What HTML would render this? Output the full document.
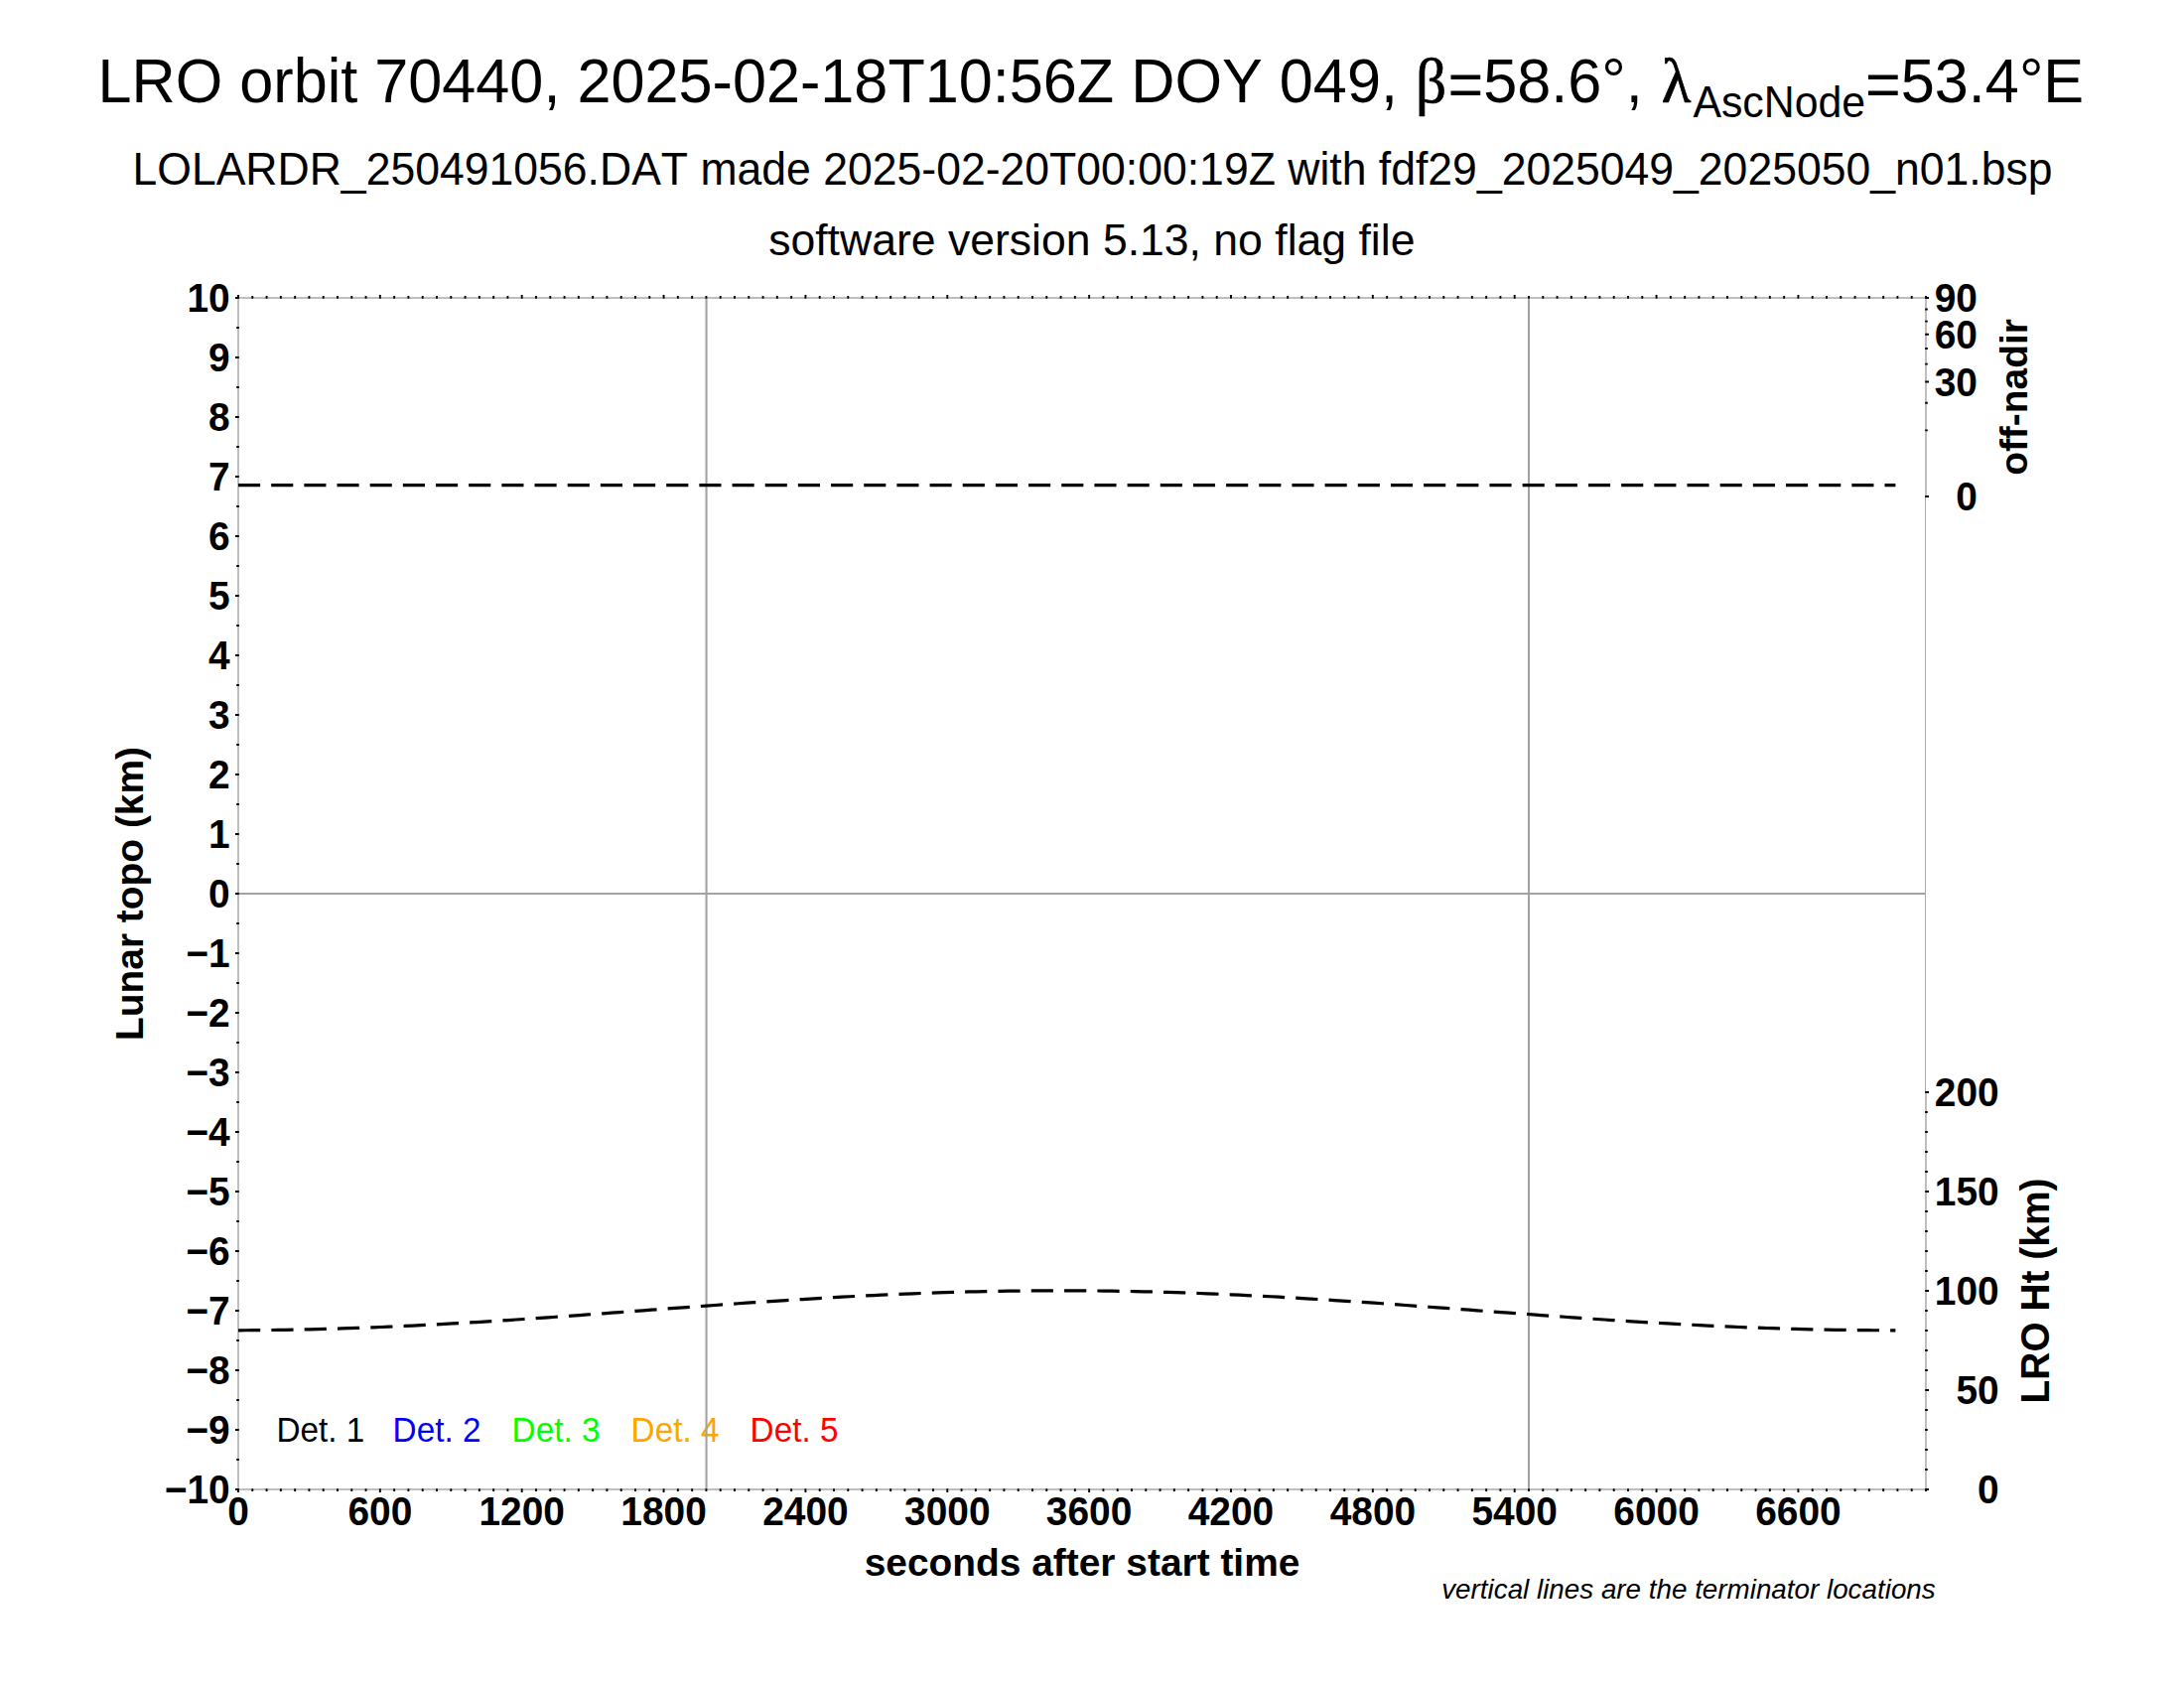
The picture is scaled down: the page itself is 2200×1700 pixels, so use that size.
<!DOCTYPE html>
<html lang="en"><head><meta charset="utf-8"><title>LRO orbit 70440</title>
<style>html,body{margin:0;padding:0;background:#fff}body{width:2200px;height:1700px;overflow:hidden}svg{display:block}text{font-kerning:none;font-family:"Liberation Sans",Arial,Helvetica,sans-serif;fill:#000}.b{font-weight:bold;font-size:38.9px}.t1{font-size:61.2px}.t2{font-size:44.55px}.lg{font-size:33.3px}.nt{font-size:27.8px;font-style:italic}.sym{font-family:"Liberation Serif","DejaVu Serif",serif;stroke:#000;stroke-width:.7px}</style></head><body>
<svg width="2200" height="1700" viewBox="0 0 2200 1700">
<rect width="2200" height="1700" fill="#fff"/>
<text class="t1" transform="translate(1098.8 103.3) scale(1 1.04)" text-anchor="middle">LRO orbit 70440, 2025-02-18T10:56Z DOY 049, <tspan class="sym" dx="1.2">β</tspan><tspan dx="1.2" dy="3.4">=</tspan><tspan dy="-3.4">58.6°, </tspan><tspan class="sym" dx="2">λ</tspan><tspan font-size="42.8" dy="14.5" dx="2">AscNode</tspan><tspan dy="-11.1">=</tspan><tspan dy="-3.4">53.4°E</tspan></text>
<text class="t2" transform="translate(1100.5 186.2) scale(1 1.035)" text-anchor="middle">LOLARDR_250491056.DAT made 2025-02-20T00:00:19Z with fdf29_2025049_2025050_n01.bsp</text>
<text class="t2" transform="translate(1099.8 256.8)" text-anchor="middle">software version 5.13, no flag file</text>
<text class="lg" transform="translate(278.5 1452.0) scale(1 1.045)" style="fill:#000">Det. 1</text>
<text class="lg" transform="translate(395.6 1452.0) scale(1 1.045)" style="fill:#00f">Det. 2</text>
<text class="lg" transform="translate(515.6 1452.0) scale(1 1.045)" style="fill:#0f0">Det. 3</text>
<text class="lg" transform="translate(635.6 1452.0) scale(1 1.045)" style="fill:#ffa500">Det. 4</text>
<text class="lg" transform="translate(755.6 1452.0) scale(1 1.045)" style="fill:#f00">Det. 5</text>
<path d="M240 900H1940" stroke="#a2a2a2" stroke-width="2" fill="none"/>
<path d="M711.55 300V1500" stroke="#a2a2a2" stroke-width="2.1" fill="none"/>
<path d="M1540.0 300V1500" stroke="#a2a2a2" stroke-width="2.1" fill="none"/>
<path d="M1940 500V299M1941 300H239M240 300V1500M239 1500H1941M1940 1501V1100" fill="none" stroke="#bebebe" stroke-width="2"/>
<path d="M1939.5 500V1100" fill="none" stroke="#aaa" stroke-width="1"/>
<path d="M240.00 300.8v-3.7M240.00 1499.2v3.7M254.29 300.8v-2.8M254.29 1499.2v2.8M268.57 300.8v-2.8M268.57 1499.2v2.8M282.86 300.8v-2.8M282.86 1499.2v2.8M297.14 300.8v-2.8M297.14 1499.2v2.8M311.43 300.8v-2.8M311.43 1499.2v2.8M325.71 300.8v-2.8M325.71 1499.2v2.8M340.00 300.8v-2.8M340.00 1499.2v2.8M354.29 300.8v-2.8M354.29 1499.2v2.8M368.57 300.8v-2.8M368.57 1499.2v2.8M382.86 300.8v-3.7M382.86 1499.2v3.7M397.14 300.8v-2.8M397.14 1499.2v2.8M411.43 300.8v-2.8M411.43 1499.2v2.8M425.71 300.8v-2.8M425.71 1499.2v2.8M440.00 300.8v-2.8M440.00 1499.2v2.8M454.29 300.8v-2.8M454.29 1499.2v2.8M468.57 300.8v-2.8M468.57 1499.2v2.8M482.86 300.8v-2.8M482.86 1499.2v2.8M497.14 300.8v-2.8M497.14 1499.2v2.8M511.43 300.8v-2.8M511.43 1499.2v2.8M525.71 300.8v-3.7M525.71 1499.2v3.7M540.00 300.8v-2.8M540.00 1499.2v2.8M554.29 300.8v-2.8M554.29 1499.2v2.8M568.57 300.8v-2.8M568.57 1499.2v2.8M582.86 300.8v-2.8M582.86 1499.2v2.8M597.14 300.8v-2.8M597.14 1499.2v2.8M611.43 300.8v-2.8M611.43 1499.2v2.8M625.71 300.8v-2.8M625.71 1499.2v2.8M640.00 300.8v-2.8M640.00 1499.2v2.8M654.29 300.8v-2.8M654.29 1499.2v2.8M668.57 300.8v-3.7M668.57 1499.2v3.7M682.86 300.8v-2.8M682.86 1499.2v2.8M697.14 300.8v-2.8M697.14 1499.2v2.8M711.43 300.8v-2.8M711.43 1499.2v2.8M725.71 300.8v-2.8M725.71 1499.2v2.8M740.00 300.8v-2.8M740.00 1499.2v2.8M754.29 300.8v-2.8M754.29 1499.2v2.8M768.57 300.8v-2.8M768.57 1499.2v2.8M782.86 300.8v-2.8M782.86 1499.2v2.8M797.14 300.8v-2.8M797.14 1499.2v2.8M811.43 300.8v-3.7M811.43 1499.2v3.7M825.71 300.8v-2.8M825.71 1499.2v2.8M840.00 300.8v-2.8M840.00 1499.2v2.8M854.29 300.8v-2.8M854.29 1499.2v2.8M868.57 300.8v-2.8M868.57 1499.2v2.8M882.86 300.8v-2.8M882.86 1499.2v2.8M897.14 300.8v-2.8M897.14 1499.2v2.8M911.43 300.8v-2.8M911.43 1499.2v2.8M925.71 300.8v-2.8M925.71 1499.2v2.8M940.00 300.8v-2.8M940.00 1499.2v2.8M954.29 300.8v-3.7M954.29 1499.2v3.7M968.57 300.8v-2.8M968.57 1499.2v2.8M982.86 300.8v-2.8M982.86 1499.2v2.8M997.14 300.8v-2.8M997.14 1499.2v2.8M1011.43 300.8v-2.8M1011.43 1499.2v2.8M1025.71 300.8v-2.8M1025.71 1499.2v2.8M1040.00 300.8v-2.8M1040.00 1499.2v2.8M1054.29 300.8v-2.8M1054.29 1499.2v2.8M1068.57 300.8v-2.8M1068.57 1499.2v2.8M1082.86 300.8v-2.8M1082.86 1499.2v2.8M1097.14 300.8v-3.7M1097.14 1499.2v3.7M1111.43 300.8v-2.8M1111.43 1499.2v2.8M1125.71 300.8v-2.8M1125.71 1499.2v2.8M1140.00 300.8v-2.8M1140.00 1499.2v2.8M1154.29 300.8v-2.8M1154.29 1499.2v2.8M1168.57 300.8v-2.8M1168.57 1499.2v2.8M1182.86 300.8v-2.8M1182.86 1499.2v2.8M1197.14 300.8v-2.8M1197.14 1499.2v2.8M1211.43 300.8v-2.8M1211.43 1499.2v2.8M1225.71 300.8v-2.8M1225.71 1499.2v2.8M1240.00 300.8v-3.7M1240.00 1499.2v3.7M1254.29 300.8v-2.8M1254.29 1499.2v2.8M1268.57 300.8v-2.8M1268.57 1499.2v2.8M1282.86 300.8v-2.8M1282.86 1499.2v2.8M1297.14 300.8v-2.8M1297.14 1499.2v2.8M1311.43 300.8v-2.8M1311.43 1499.2v2.8M1325.71 300.8v-2.8M1325.71 1499.2v2.8M1340.00 300.8v-2.8M1340.00 1499.2v2.8M1354.29 300.8v-2.8M1354.29 1499.2v2.8M1368.57 300.8v-2.8M1368.57 1499.2v2.8M1382.86 300.8v-3.7M1382.86 1499.2v3.7M1397.14 300.8v-2.8M1397.14 1499.2v2.8M1411.43 300.8v-2.8M1411.43 1499.2v2.8M1425.71 300.8v-2.8M1425.71 1499.2v2.8M1440.00 300.8v-2.8M1440.00 1499.2v2.8M1454.29 300.8v-2.8M1454.29 1499.2v2.8M1468.57 300.8v-2.8M1468.57 1499.2v2.8M1482.86 300.8v-2.8M1482.86 1499.2v2.8M1497.14 300.8v-2.8M1497.14 1499.2v2.8M1511.43 300.8v-2.8M1511.43 1499.2v2.8M1525.71 300.8v-3.7M1525.71 1499.2v3.7M1540.00 300.8v-2.8M1540.00 1499.2v2.8M1554.29 300.8v-2.8M1554.29 1499.2v2.8M1568.57 300.8v-2.8M1568.57 1499.2v2.8M1582.86 300.8v-2.8M1582.86 1499.2v2.8M1597.14 300.8v-2.8M1597.14 1499.2v2.8M1611.43 300.8v-2.8M1611.43 1499.2v2.8M1625.71 300.8v-2.8M1625.71 1499.2v2.8M1640.00 300.8v-2.8M1640.00 1499.2v2.8M1654.29 300.8v-2.8M1654.29 1499.2v2.8M1668.57 300.8v-3.7M1668.57 1499.2v3.7M1682.86 300.8v-2.8M1682.86 1499.2v2.8M1697.14 300.8v-2.8M1697.14 1499.2v2.8M1711.43 300.8v-2.8M1711.43 1499.2v2.8M1725.71 300.8v-2.8M1725.71 1499.2v2.8M1740.00 300.8v-2.8M1740.00 1499.2v2.8M1754.29 300.8v-2.8M1754.29 1499.2v2.8M1768.57 300.8v-2.8M1768.57 1499.2v2.8M1782.86 300.8v-2.8M1782.86 1499.2v2.8M1797.14 300.8v-2.8M1797.14 1499.2v2.8M1811.43 300.8v-3.7M1811.43 1499.2v3.7M1825.71 300.8v-2.8M1825.71 1499.2v2.8M1840.00 300.8v-2.8M1840.00 1499.2v2.8M1854.29 300.8v-2.8M1854.29 1499.2v2.8M1868.57 300.8v-2.8M1868.57 1499.2v2.8M1882.86 300.8v-2.8M1882.86 1499.2v2.8M1897.14 300.8v-2.8M1897.14 1499.2v2.8M1911.43 300.8v-2.8M1911.43 1499.2v2.8M1925.71 300.8v-2.8M1925.71 1499.2v2.8M1940.00 300.8v-2.8M1940.00 1499.2v2.8M240.8 1500.00h-3.8M240.8 1470.00h-2.6M240.8 1440.00h-3.8M240.8 1410.00h-2.6M240.8 1380.00h-3.8M240.8 1350.00h-2.6M240.8 1320.00h-3.8M240.8 1290.00h-2.6M240.8 1260.00h-3.8M240.8 1230.00h-2.6M240.8 1200.00h-3.8M240.8 1170.00h-2.6M240.8 1140.00h-3.8M240.8 1110.00h-2.6M240.8 1080.00h-3.8M240.8 1050.00h-2.6M240.8 1020.00h-3.8M240.8 990.00h-2.6M240.8 960.00h-3.8M240.8 930.00h-2.6M240.8 900.00h-3.8M240.8 870.00h-2.6M240.8 840.00h-3.8M240.8 810.00h-2.6M240.8 780.00h-3.8M240.8 750.00h-2.6M240.8 720.00h-3.8M240.8 690.00h-2.6M240.8 660.00h-3.8M240.8 630.00h-2.6M240.8 600.00h-3.8M240.8 570.00h-2.6M240.8 540.00h-3.8M240.8 510.00h-2.6M240.8 480.00h-3.8M240.8 450.00h-2.6M240.8 420.00h-3.8M240.8 390.00h-2.6M240.8 360.00h-3.8M240.8 330.00h-2.6M240.8 300.00h-3.8M1939.2 500.00h3.8M1939.2 433.33h2.6M1939.2 405.72h2.6M1939.2 384.53h3.8M1939.2 366.67h2.6M1939.2 350.93h2.6M1939.2 336.70h3.8M1939.2 323.62h2.6M1939.2 311.44h2.6M1939.2 300.00h3.8M1939.2 1500.00h3.8M1939.2 1480.00h2.6M1939.2 1460.00h2.6M1939.2 1440.00h2.6M1939.2 1420.00h2.6M1939.2 1400.00h3.8M1939.2 1380.00h2.6M1939.2 1360.00h2.6M1939.2 1340.00h2.6M1939.2 1320.00h2.6M1939.2 1300.00h3.8M1939.2 1280.00h2.6M1939.2 1260.00h2.6M1939.2 1240.00h2.6M1939.2 1220.00h2.6M1939.2 1200.00h3.8M1939.2 1180.00h2.6M1939.2 1160.00h2.6M1939.2 1140.00h2.6M1939.2 1120.00h2.6M1939.2 1100.00h3.8" stroke="#000" stroke-width="1.9" fill="none"/>
<path d="M240.0 1339.78L248.0 1339.74L256.0 1339.69L264.0 1339.62L272.0 1339.53L280.0 1339.42L288.0 1339.30L296.0 1339.16L304.0 1339.00L312.0 1338.82L320.0 1338.63L328.0 1338.42L336.0 1338.19L344.0 1337.95L352.0 1337.69L360.0 1337.41L368.0 1337.12L376.0 1336.81L384.0 1336.49L392.0 1336.15L400.0 1335.80L408.0 1335.44L416.0 1335.06L424.0 1334.66L432.0 1334.26L440.0 1333.84L448.0 1333.40L456.0 1332.96L464.0 1332.50L472.0 1332.03L480.0 1331.56L488.0 1331.07L496.0 1330.57L504.0 1330.06L512.0 1329.54L520.0 1329.01L528.0 1328.48L536.0 1327.93L544.0 1327.38L552.0 1326.83L560.0 1326.26L568.0 1325.70L576.0 1325.12L584.0 1324.54L592.0 1323.96L600.0 1323.37L608.0 1322.78L616.0 1322.19L624.0 1321.59L632.0 1321.00L640.0 1320.40L648.0 1319.80L656.0 1319.20L664.0 1318.60L672.0 1318.01L680.0 1317.41L688.0 1316.82L696.0 1316.23L704.0 1315.64L712.0 1315.06L720.0 1314.48L728.0 1313.90L736.0 1313.34L744.0 1312.77L752.0 1312.22L760.0 1311.67L768.0 1311.12L776.0 1310.59L784.0 1310.06L792.0 1309.54L800.0 1309.03L808.0 1308.53L816.0 1308.04L824.0 1307.57L832.0 1307.10L840.0 1306.64L848.0 1306.20L856.0 1305.76L864.0 1305.34L872.0 1304.94L880.0 1304.54L888.0 1304.16L896.0 1303.80L904.0 1303.45L912.0 1303.11L920.0 1302.79L928.0 1302.48L936.0 1302.19L944.0 1301.91L952.0 1301.65L960.0 1301.41L968.0 1301.18L976.0 1300.97L984.0 1300.78L992.0 1300.60L1000.0 1300.44L1008.0 1300.30L1016.0 1300.18L1024.0 1300.07L1032.0 1299.98L1040.0 1299.91L1048.0 1299.86L1056.0 1299.82L1064.0 1299.80L1072.0 1299.80L1080.0 1299.82L1088.0 1299.86L1096.0 1299.91L1104.0 1299.98L1112.0 1300.07L1120.0 1300.18L1128.0 1300.30L1136.0 1300.44L1144.0 1300.60L1152.0 1300.78L1160.0 1300.97L1168.0 1301.18L1176.0 1301.41L1184.0 1301.65L1192.0 1301.91L1200.0 1302.19L1208.0 1302.48L1216.0 1302.79L1224.0 1303.11L1232.0 1303.45L1240.0 1303.80L1248.0 1304.16L1256.0 1304.54L1264.0 1304.94L1272.0 1305.34L1280.0 1305.76L1288.0 1306.20L1296.0 1306.64L1304.0 1307.10L1312.0 1307.57L1320.0 1308.04L1328.0 1308.53L1336.0 1309.03L1344.0 1309.54L1352.0 1310.06L1360.0 1310.59L1368.0 1311.12L1376.0 1311.67L1384.0 1312.22L1392.0 1312.77L1400.0 1313.34L1408.0 1313.90L1416.0 1314.48L1424.0 1315.06L1432.0 1315.64L1440.0 1316.23L1448.0 1316.82L1456.0 1317.41L1464.0 1318.01L1472.0 1318.60L1480.0 1319.20L1488.0 1319.80L1496.0 1320.40L1504.0 1321.00L1512.0 1321.59L1520.0 1322.19L1528.0 1322.78L1536.0 1323.37L1544.0 1323.96L1552.0 1324.54L1560.0 1325.12L1568.0 1325.70L1576.0 1326.26L1584.0 1326.83L1592.0 1327.38L1600.0 1327.93L1608.0 1328.48L1616.0 1329.01L1624.0 1329.54L1632.0 1330.06L1640.0 1330.57L1648.0 1331.07L1656.0 1331.56L1664.0 1332.03L1672.0 1332.50L1680.0 1332.96L1688.0 1333.40L1696.0 1333.84L1704.0 1334.26L1712.0 1334.66L1720.0 1335.06L1728.0 1335.44L1736.0 1335.80L1744.0 1336.15L1752.0 1336.49L1760.0 1336.81L1768.0 1337.12L1776.0 1337.41L1784.0 1337.69L1792.0 1337.95L1800.0 1338.19L1808.0 1338.42L1816.0 1338.63L1824.0 1338.82L1832.0 1339.00L1840.0 1339.16L1848.0 1339.30L1856.0 1339.42L1864.0 1339.53L1872.0 1339.62L1880.0 1339.69L1888.0 1339.74L1896.0 1339.78L1904.0 1339.80L1909.4 1339.80" stroke="#000" stroke-width="3.2" stroke-dasharray="22.22 11.11" fill="none"/>
<path d="M240 488.6H1909.4" stroke="#000" stroke-width="3.2" stroke-dasharray="22.11 11.06" fill="none"/>
<text class="b" transform="translate(231.7 1514.2) scale(1 1.03)" text-anchor="end">−10</text>
<text class="b" transform="translate(231.7 1454.2) scale(1 1.03)" text-anchor="end">−9</text>
<text class="b" transform="translate(231.7 1394.2) scale(1 1.03)" text-anchor="end">−8</text>
<text class="b" transform="translate(231.7 1334.2) scale(1 1.03)" text-anchor="end">−7</text>
<text class="b" transform="translate(231.7 1274.2) scale(1 1.03)" text-anchor="end">−6</text>
<text class="b" transform="translate(231.7 1214.2) scale(1 1.03)" text-anchor="end">−5</text>
<text class="b" transform="translate(231.7 1154.2) scale(1 1.03)" text-anchor="end">−4</text>
<text class="b" transform="translate(231.7 1094.2) scale(1 1.03)" text-anchor="end">−3</text>
<text class="b" transform="translate(231.7 1034.2) scale(1 1.03)" text-anchor="end">−2</text>
<text class="b" transform="translate(231.7 974.2) scale(1 1.03)" text-anchor="end">−1</text>
<text class="b" transform="translate(231.7 914.2) scale(1 1.03)" text-anchor="end">0</text>
<text class="b" transform="translate(231.7 854.2) scale(1 1.03)" text-anchor="end">1</text>
<text class="b" transform="translate(231.7 794.2) scale(1 1.03)" text-anchor="end">2</text>
<text class="b" transform="translate(231.7 734.2) scale(1 1.03)" text-anchor="end">3</text>
<text class="b" transform="translate(231.7 674.2) scale(1 1.03)" text-anchor="end">4</text>
<text class="b" transform="translate(231.7 614.2) scale(1 1.03)" text-anchor="end">5</text>
<text class="b" transform="translate(231.7 554.2) scale(1 1.03)" text-anchor="end">6</text>
<text class="b" transform="translate(231.7 494.2) scale(1 1.03)" text-anchor="end">7</text>
<text class="b" transform="translate(231.7 434.2) scale(1 1.03)" text-anchor="end">8</text>
<text class="b" transform="translate(231.7 374.2) scale(1 1.03)" text-anchor="end">9</text>
<text class="b" transform="translate(231.7 314.2) scale(1 1.03)" text-anchor="end">10</text>
<text class="b" transform="translate(240.0 1536.4) scale(1 1.03)" text-anchor="middle">0</text>
<text class="b" transform="translate(382.9 1536.4) scale(1 1.03)" text-anchor="middle">600</text>
<text class="b" transform="translate(525.7 1536.4) scale(1 1.03)" text-anchor="middle">1200</text>
<text class="b" transform="translate(668.6 1536.4) scale(1 1.03)" text-anchor="middle">1800</text>
<text class="b" transform="translate(811.4 1536.4) scale(1 1.03)" text-anchor="middle">2400</text>
<text class="b" transform="translate(954.3 1536.4) scale(1 1.03)" text-anchor="middle">3000</text>
<text class="b" transform="translate(1097.1 1536.4) scale(1 1.03)" text-anchor="middle">3600</text>
<text class="b" transform="translate(1240.0 1536.4) scale(1 1.03)" text-anchor="middle">4200</text>
<text class="b" transform="translate(1382.9 1536.4) scale(1 1.03)" text-anchor="middle">4800</text>
<text class="b" transform="translate(1525.7 1536.4) scale(1 1.03)" text-anchor="middle">5400</text>
<text class="b" transform="translate(1668.6 1536.4) scale(1 1.03)" text-anchor="middle">6000</text>
<text class="b" transform="translate(1811.4 1536.4) scale(1 1.03)" text-anchor="middle">6600</text>
<text class="b" transform="translate(1992.0 514.2) scale(1 1.03)" text-anchor="end">0</text>
<text class="b" transform="translate(1992.0 398.7) scale(1 1.03)" text-anchor="end">30</text>
<text class="b" transform="translate(1992.0 350.9) scale(1 1.03)" text-anchor="end">60</text>
<text class="b" transform="translate(1992.0 314.2) scale(1 1.03)" text-anchor="end">90</text>
<text class="b" transform="translate(2013.7 1514.2) scale(1 1.03)" text-anchor="end">0</text>
<text class="b" transform="translate(2013.7 1414.2) scale(1 1.03)" text-anchor="end">50</text>
<text class="b" transform="translate(2013.7 1314.2) scale(1 1.03)" text-anchor="end">100</text>
<text class="b" transform="translate(2013.7 1214.2) scale(1 1.03)" text-anchor="end">150</text>
<text class="b" transform="translate(2013.7 1114.2) scale(1 1.03)" text-anchor="end">200</text>
<text class="b" transform="translate(144.0 900.0) rotate(-90)" text-anchor="middle">Lunar topo (km)</text>
<text class="b" transform="translate(2041.9 400.0) rotate(-90)" text-anchor="middle">off-nadir</text>
<text class="b" transform="translate(2064.3 1300.0) rotate(-90) scale(1 1.03)" text-anchor="middle">LRO Ht (km)</text>
<text class="b" transform="translate(1090.0 1587.3)" text-anchor="middle">seconds after start time</text>
<text class="nt" transform="translate(1949.7 1610.0)" text-anchor="end">vertical lines are the terminator locations</text>
</svg></body></html>
